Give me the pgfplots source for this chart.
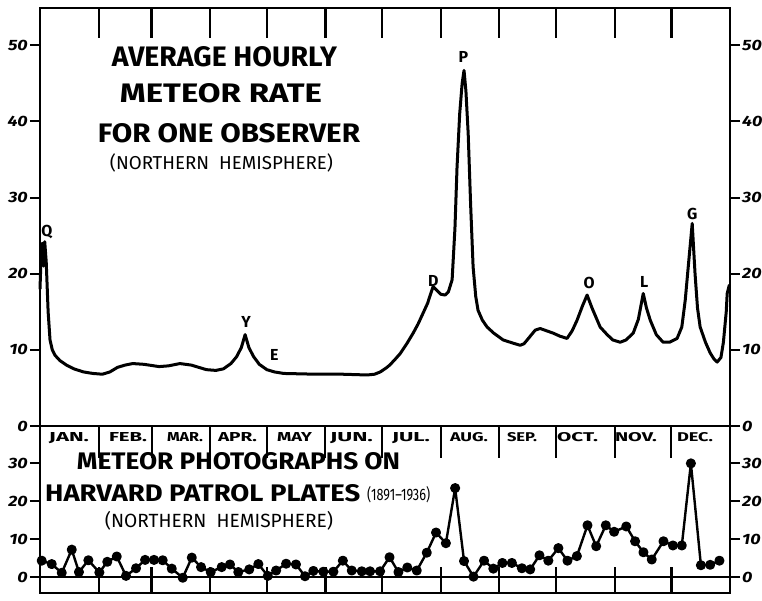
\documentclass[border=0pt]{standalone}
\usepackage{fontspec}
\setmainfont{Fira Sans}
\usepackage{graphicx}
\usepackage{pgfplots}
\pgfplotsset{compat=1.18}
\pgfplotsset{
 base/.style={scale only axis, width=690bp, xmin=0, xmax=365, clip=false,
   axis line style={line width=2.6bp}, every tick/.style={black, line width=2bp},
   major tick length=10bp, tick align=outside,
   /pgf/number format/assume math mode=true,
   yticklabel style={font=\fontsize{15}{15}\selectfont\bfseries\itshape, inner sep=2bp},
   yticklabel={\scalebox{1.2}[1]{\pgfmathprintnumber{\tick}}},
   xtick=\empty},
 toppanel/.style={base, at={(40bp,175bp)}, anchor=south west, height=418bp, ymin=0, ymax=54.9, ytick={0,10,...,50}},
 botpanel/.style={base, at={(40bp,8bp)}, anchor=south west, height=167bp, ymin=-4.21, ymax=39.74, ytick={0,10,20,30}},
 monthticks/.style={xtick={31,59,90,120,151,181,212,243,273,304,334}, xticklabels={}, ytick=\empty, tick align=inside},
}
\newcommand{\rb}[3]{\resizebox{#1bp}{#2bp}{#3}}
\begin{document}
\begin{tikzpicture}[x=1bp,y=1bp]
\useasboundingbox (0,0) rectangle (762,601);
% ---------------- top panel ----------------
\begin{axis}[toppanel, ytick pos=left]
\addplot[black, line width=3bp, line join=round, line cap=round] table {
0 18.0
0.6 22.5
1.2 24.0
1.8 21.0
2.5 24.2
3.3 21.5
4.3 15.0
5.3 11.3
6.5 10.0
7.9 9.3
10.5 8.6
14 8.0
18 7.5
23 7.1
28 6.9
33 6.8
37 7.1
41 7.7
45 8.0
49 8.2
55 8.1
63 7.8
68 7.9
74 8.2
80 8.0
88 7.4
93 7.3
97 7.5
101 8.2
104 9.1
106.5 10.3
108.5 12.0
110.5 10.3
113 9.1
116 8.1
120 7.4
124 7.1
129 6.9
146 6.8
160 6.8
173 6.7
177 6.8
180 7.1
183 7.6
185 8.0
188 8.8
190.5 9.5
194 10.8
197.4 12.2
200 13.4
202.6 14.8
205 16.1
207.9 18.3
210 17.8
212 17.3
214.3 17.2
216 17.6
218 19.2
219.5 26
220.6 34
222 41
223.3 45
224.3 46.7
225.3 44
226.5 38.4
227.8 29
229.1 20.9
230.5 17
231.7 15.2
234 13.9
236.5 13.0
240 12.2
245 11.3
250 10.9
254 10.6
256 10.8
257.7 11.3
260 12.0
262 12.6
264.6 12.8
268 12.5
271.4 12.2
275 11.8
278.8 11.5
281.5 12.5
284.1 13.9
287 15.8
289.4 17.2
292 15.5
296.3 13.0
300 12.0
303 11.3
306.9 11.0
310 11.3
313.8 12.2
316.5 14.0
319.1 17.4
320.8 15.5
322.8 13.9
326 12.0
329.6 11.0
333 11.0
337 11.5
339.5 13.0
341.3 16.5
343.3 22
345 26.6
346.5 20
347.8 15.5
349.2 13.0
352 11.0
354.5 9.6
356.5 8.8
358.2 8.4
360.2 9.0
361.5 11
363 15
363.5 17.4
364.6 18.5
};
\begin{scope}[font=\fontsize{16}{16}\selectfont\bfseries]
\node at (axis cs:3.7,25.5) {Q};
\node at (axis cs:109,13.6) {Y};
\node at (axis cs:124,9.3) {E};
\node at (axis cs:208,19.0) {D};
\node at (axis cs:224,48.5) {P};
\node at (axis cs:290.5,18.8) {O};
\node at (axis cs:319.6,18.9) {L};
\node at (axis cs:345,27.8) {G};
\end{scope}
\end{axis}
\begin{axis}[toppanel, ytick pos=right, yticklabel pos=right]
\end{axis}
% ---------------- bottom panel ----------------
\begin{axis}[botpanel, ytick pos=left]
\addplot[black, line width=1.6bp] coordinates {(0.5,0) (364.5,0)};
\addplot[black, line width=2.4bp, line join=round, mark=*, mark size=3.8bp, mark options={solid}] table {
0.9 4.3
6.2 3.4
11.5 1.1
16.8 7.2
20.6 1.3
25.6 4.4
31.4 1.2
35.6 4.0
40.6 5.4
45.5 0.3
50.8 2.3
55.6 4.5
60.3 4.5
64.9 4.4
69.7 2.2
75.5 -0.2
80.3 5.1
85.2 2.6
90.3 1.3
96.1 2.6
100.5 3.3
104.9 1.3
110.7 2.0
115.5 3.4
120.5 0.3
124.9 1.7
130.2 3.5
135.4 3.3
140.2 0.2
144.6 1.6
149.9 1.4
155.2 1.4
160.2 4.3
164.9 1.7
170.2 1.5
174.6 1.5
179.9 1.5
184.9 5.2
189.6 1.3
194.3 2.5
199.3 1.7
204.6 6.4
209.5 11.7
214.7 8.9
219.6 23.4
224.3 4.2
229.3 0.1
234.9 4.3
239.8 2.2
244.6 3.7
249.6 3.7
254.9 2.3
259.3 2.0
264.2 5.7
268.9 4.3
274.2 7.6
279.0 4.3
284.0 5.5
289.6 13.6
294.2 8.1
299.3 13.6
303.7 11.9
310.1 13.3
314.8 9.4
319.2 6.5
323.6 4.6
329.8 9.4
334.8 8.3
339.5 8.3
344.3 29.9
349.6 3.1
354.5 3.2
359.4 4.3
};
\end{axis}
\begin{axis}[botpanel, ytick pos=right, yticklabel pos=right]
\end{axis}
% ---------------- titles ----------------
\begin{scope}[every node/.style={inner sep=0pt}, font=\bfseries]
\node[anchor=base] at (224.5,534.3) {\rb{225}{20}{AVERAGE HOURLY}};
\node[anchor=base] at (221,498) {\rb{202}{19}{METEOR RATE}};
\node[anchor=base] at (229,458) {\rb{262}{19}{FOR ONE OBSERVER}};
\node[anchor=base] at (221.5,431) {\resizebox{223bp}{!}{\mdseries (NORTHERN\ \ HEMISPHERE)}};
\node[anchor=base] at (238.5,131) {\rb{323}{17}{METEOR PHOTOGRAPHS ON}};
\node[anchor=base west] at (45,99) {\rb{315}{17}{HARVARD PATROL PLATES}};
\node[anchor=base west] at (367,100) {\rb{63}{14}{\mdseries (1891–1936)}};
\node[anchor=base] at (219,73) {\resizebox{228bp}{!}{\mdseries (NORTHERN\ \ HEMISPHERE)}};
% month names
\node[anchor=base] at (69,159) {\rb{40}{9}{JAN.}};
\node[anchor=base] at (128,159) {\rb{38}{9}{FEB.}};
\node[anchor=base] at (185,159) {\rb{36}{9}{MAR.}};
\node[anchor=base] at (237.5,159) {\rb{39}{9}{APR.}};
\node[anchor=base] at (294.5,159) {\rb{35}{9}{MAY}};
\node[anchor=base] at (351.5,159) {\rb{43}{9}{JUN.}};
\node[anchor=base] at (411,159) {\rb{38}{9}{JUL.}};
\node[anchor=base] at (469,159) {\rb{38}{9}{AUG.}};
\node[anchor=base] at (522,159) {\rb{30}{9}{SEP.}};
\node[anchor=base] at (577.5,159) {\rb{41}{9}{OCT.}};
\node[anchor=base] at (636,159) {\rb{42}{9}{NOV.}};
\node[anchor=base] at (695,159) {\rb{36}{9}{DEC.}};
\end{scope}
% ---------------- month ticks ----------------
\begin{axis}[toppanel, monthticks, xtick pos=right, major tick length=30bp, every tick/.style={black, line width=2.2bp}]
\end{axis}
\begin{axis}[botpanel, monthticks, xtick pos=left, major tick length=26bp, every tick/.style={black, line width=2.2bp}]
\end{axis}
\begin{axis}[botpanel, monthticks, xtick pos=right, major tick length=32bp, every tick/.style={black, line width=2bp}]
\end{axis}
\end{tikzpicture}
\end{document}
